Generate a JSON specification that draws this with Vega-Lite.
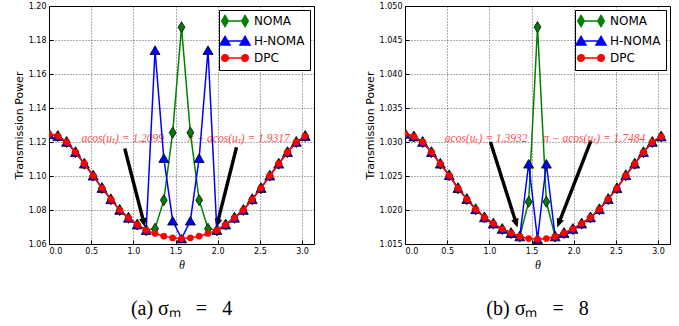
{
  "$schema": "https://vega.github.io/schema/vega-lite/v6.json",
  "background": "white",
  "padding": {"left": 12, "top": 1, "right": 2, "bottom": 0},
  "spacing": 48,
  "config": {
    "view": {"stroke": "black", "strokeWidth": 1},
    "axis": {
      "labelFont": "DejaVu Sans", "labelFontSize": 8, "labelColor": "black",
      "titleFont": "DejaVu Sans", "titleFontSize": 11, "titleFontWeight": "normal", "titleColor": "black",
      "domain": false, "grid": true, "gridColor": "black", "gridDash": [1, 2], "gridOpacity": 0.8, "gridWidth": 0.8,
      "tickColor": "black", "tickSize": -4, "labelPadding": 7
    },
    "axisX": {"titleFont": "Liberation Serif", "titleFontStyle": "italic", "titleFontSize": 12, "titlePadding": 4},
    "axisY": {"titlePadding": 4},
    "title": {"font": "Liberation Serif", "fontSize": 20, "fontWeight": "normal", "color": "black"},
    "legend": {
      "orient": "top-right", "offset": 4, "title": null, "fillColor": "white", "strokeColor": "black", "strokeWidth": 1,
      "padding": 5, "rowPadding": 3, "labelFont": "DejaVu Sans", "labelFontSize": 12, "labelColor": "black",
      "symbolSize": 100, "symbolStrokeWidth": 1.5, "labelOffset": 18
    }
  },
  "resolve": {
    "scale": {"x": "independent", "y": "independent", "fill": "independent", "stroke": "independent", "shape": "independent"},
    "legend": {"fill": "independent", "stroke": "independent", "shape": "independent"}
  },
  "datasets": {
    "curvesA": [
      {"s": "NOMA", "t": 0, "p": 1.1245}, {"s": "NOMA", "t": 0.105, "p": 1.1235}, {"s": "NOMA", "t": 0.209, "p": 1.12}, {"s": "NOMA", "t": 0.314, "p": 1.114}, {"s": "NOMA", "t": 0.419, "p": 1.1072}, {"s": "NOMA", "t": 0.524, "p": 1.1002}, {"s": "NOMA", "t": 0.628, "p": 1.0929}, {"s": "NOMA", "t": 0.733, "p": 1.0863}, {"s": "NOMA", "t": 0.838, "p": 1.08}, {"s": "NOMA", "t": 0.942, "p": 1.0754}, {"s": "NOMA", "t": 1.047, "p": 1.0714}, {"s": "NOMA", "t": 1.152, "p": 1.0681}, {"s": "NOMA", "t": 1.257, "p": 1.069}, {"s": "NOMA", "t": 1.361, "p": 1.0858}, {"s": "NOMA", "t": 1.466, "p": 1.1255}, {"s": "NOMA", "t": 1.571, "p": 1.1875}, {"s": "NOMA", "t": 1.676, "p": 1.1255}, {"s": "NOMA", "t": 1.78, "p": 1.0858}, {"s": "NOMA", "t": 1.885, "p": 1.069}, {"s": "NOMA", "t": 1.99, "p": 1.0681}, {"s": "NOMA", "t": 2.094, "p": 1.0714}, {"s": "NOMA", "t": 2.199, "p": 1.0754}, {"s": "NOMA", "t": 2.304, "p": 1.08}, {"s": "NOMA", "t": 2.409, "p": 1.0863}, {"s": "NOMA", "t": 2.513, "p": 1.0929}, {"s": "NOMA", "t": 2.618, "p": 1.1002}, {"s": "NOMA", "t": 2.723, "p": 1.1072}, {"s": "NOMA", "t": 2.827, "p": 1.114}, {"s": "NOMA", "t": 2.932, "p": 1.12}, {"s": "NOMA", "t": 3.037, "p": 1.1235},
      {"s": "H-NOMA", "t": 0, "p": 1.1245}, {"s": "H-NOMA", "t": 0.105, "p": 1.1235}, {"s": "H-NOMA", "t": 0.209, "p": 1.12}, {"s": "H-NOMA", "t": 0.314, "p": 1.114}, {"s": "H-NOMA", "t": 0.419, "p": 1.1072}, {"s": "H-NOMA", "t": 0.524, "p": 1.1002}, {"s": "H-NOMA", "t": 0.628, "p": 1.0929}, {"s": "H-NOMA", "t": 0.733, "p": 1.0863}, {"s": "H-NOMA", "t": 0.838, "p": 1.08}, {"s": "H-NOMA", "t": 0.942, "p": 1.0754}, {"s": "H-NOMA", "t": 1.047, "p": 1.0714}, {"s": "H-NOMA", "t": 1.152, "p": 1.0681}, {"s": "H-NOMA", "t": 1.257, "p": 1.174}, {"s": "H-NOMA", "t": 1.361, "p": 1.1105}, {"s": "H-NOMA", "t": 1.466, "p": 1.0737}, {"s": "H-NOMA", "t": 1.571, "p": 1.0632}, {"s": "H-NOMA", "t": 1.676, "p": 1.0737}, {"s": "H-NOMA", "t": 1.78, "p": 1.1105}, {"s": "H-NOMA", "t": 1.885, "p": 1.174}, {"s": "H-NOMA", "t": 1.99, "p": 1.0681}, {"s": "H-NOMA", "t": 2.094, "p": 1.0714}, {"s": "H-NOMA", "t": 2.199, "p": 1.0754}, {"s": "H-NOMA", "t": 2.304, "p": 1.08}, {"s": "H-NOMA", "t": 2.409, "p": 1.0863}, {"s": "H-NOMA", "t": 2.513, "p": 1.0929}, {"s": "H-NOMA", "t": 2.618, "p": 1.1002}, {"s": "H-NOMA", "t": 2.723, "p": 1.1072}, {"s": "H-NOMA", "t": 2.827, "p": 1.114}, {"s": "H-NOMA", "t": 2.932, "p": 1.12}, {"s": "H-NOMA", "t": 3.037, "p": 1.1235},
      {"s": "DPC", "t": 0, "p": 1.1245}, {"s": "DPC", "t": 0.105, "p": 1.1235}, {"s": "DPC", "t": 0.209, "p": 1.12}, {"s": "DPC", "t": 0.314, "p": 1.114}, {"s": "DPC", "t": 0.419, "p": 1.1072}, {"s": "DPC", "t": 0.524, "p": 1.1002}, {"s": "DPC", "t": 0.628, "p": 1.0929}, {"s": "DPC", "t": 0.733, "p": 1.0863}, {"s": "DPC", "t": 0.838, "p": 1.08}, {"s": "DPC", "t": 0.942, "p": 1.0754}, {"s": "DPC", "t": 1.047, "p": 1.0714}, {"s": "DPC", "t": 1.152, "p": 1.0681}, {"s": "DPC", "t": 1.257, "p": 1.0662}, {"s": "DPC", "t": 1.361, "p": 1.0646}, {"s": "DPC", "t": 1.466, "p": 1.0636}, {"s": "DPC", "t": 1.571, "p": 1.0632}, {"s": "DPC", "t": 1.676, "p": 1.0636}, {"s": "DPC", "t": 1.78, "p": 1.0646}, {"s": "DPC", "t": 1.885, "p": 1.0662}, {"s": "DPC", "t": 1.99, "p": 1.0681}, {"s": "DPC", "t": 2.094, "p": 1.0714}, {"s": "DPC", "t": 2.199, "p": 1.0754}, {"s": "DPC", "t": 2.304, "p": 1.08}, {"s": "DPC", "t": 2.409, "p": 1.0863}, {"s": "DPC", "t": 2.513, "p": 1.0929}, {"s": "DPC", "t": 2.618, "p": 1.1002}, {"s": "DPC", "t": 2.723, "p": 1.1072}, {"s": "DPC", "t": 2.827, "p": 1.114}, {"s": "DPC", "t": 2.932, "p": 1.12}, {"s": "DPC", "t": 3.037, "p": 1.1235}
    ],
    "curvesB": [
      {"s": "NOMA", "t": 0, "p": 1.0312}, {"s": "NOMA", "t": 0.105, "p": 1.0308}, {"s": "NOMA", "t": 0.209, "p": 1.03}, {"s": "NOMA", "t": 0.314, "p": 1.0285}, {"s": "NOMA", "t": 0.419, "p": 1.0268}, {"s": "NOMA", "t": 0.524, "p": 1.0251}, {"s": "NOMA", "t": 0.628, "p": 1.0232}, {"s": "NOMA", "t": 0.733, "p": 1.0216}, {"s": "NOMA", "t": 0.838, "p": 1.0201}, {"s": "NOMA", "t": 0.942, "p": 1.0189}, {"s": "NOMA", "t": 1.047, "p": 1.018}, {"s": "NOMA", "t": 1.152, "p": 1.0172}, {"s": "NOMA", "t": 1.257, "p": 1.0166}, {"s": "NOMA", "t": 1.361, "p": 1.0161}, {"s": "NOMA", "t": 1.466, "p": 1.0212}, {"s": "NOMA", "t": 1.571, "p": 1.0469}, {"s": "NOMA", "t": 1.676, "p": 1.0212}, {"s": "NOMA", "t": 1.78, "p": 1.0161}, {"s": "NOMA", "t": 1.885, "p": 1.0166}, {"s": "NOMA", "t": 1.99, "p": 1.0172}, {"s": "NOMA", "t": 2.094, "p": 1.018}, {"s": "NOMA", "t": 2.199, "p": 1.0189}, {"s": "NOMA", "t": 2.304, "p": 1.0201}, {"s": "NOMA", "t": 2.409, "p": 1.0216}, {"s": "NOMA", "t": 2.513, "p": 1.0232}, {"s": "NOMA", "t": 2.618, "p": 1.0251}, {"s": "NOMA", "t": 2.723, "p": 1.0268}, {"s": "NOMA", "t": 2.827, "p": 1.0285}, {"s": "NOMA", "t": 2.932, "p": 1.03}, {"s": "NOMA", "t": 3.037, "p": 1.0308},
      {"s": "H-NOMA", "t": 0, "p": 1.0312}, {"s": "H-NOMA", "t": 0.105, "p": 1.0308}, {"s": "H-NOMA", "t": 0.209, "p": 1.03}, {"s": "H-NOMA", "t": 0.314, "p": 1.0285}, {"s": "H-NOMA", "t": 0.419, "p": 1.0268}, {"s": "H-NOMA", "t": 0.524, "p": 1.0251}, {"s": "H-NOMA", "t": 0.628, "p": 1.0232}, {"s": "H-NOMA", "t": 0.733, "p": 1.0216}, {"s": "H-NOMA", "t": 0.838, "p": 1.0201}, {"s": "H-NOMA", "t": 0.942, "p": 1.0189}, {"s": "H-NOMA", "t": 1.047, "p": 1.018}, {"s": "H-NOMA", "t": 1.152, "p": 1.0172}, {"s": "H-NOMA", "t": 1.257, "p": 1.0166}, {"s": "H-NOMA", "t": 1.361, "p": 1.0161}, {"s": "H-NOMA", "t": 1.466, "p": 1.0268}, {"s": "H-NOMA", "t": 1.571, "p": 1.0157}, {"s": "H-NOMA", "t": 1.676, "p": 1.0268}, {"s": "H-NOMA", "t": 1.78, "p": 1.0161}, {"s": "H-NOMA", "t": 1.885, "p": 1.0166}, {"s": "H-NOMA", "t": 1.99, "p": 1.0172}, {"s": "H-NOMA", "t": 2.094, "p": 1.018}, {"s": "H-NOMA", "t": 2.199, "p": 1.0189}, {"s": "H-NOMA", "t": 2.304, "p": 1.0201}, {"s": "H-NOMA", "t": 2.409, "p": 1.0216}, {"s": "H-NOMA", "t": 2.513, "p": 1.0232}, {"s": "H-NOMA", "t": 2.618, "p": 1.0251}, {"s": "H-NOMA", "t": 2.723, "p": 1.0268}, {"s": "H-NOMA", "t": 2.827, "p": 1.0285}, {"s": "H-NOMA", "t": 2.932, "p": 1.03}, {"s": "H-NOMA", "t": 3.037, "p": 1.0308},
      {"s": "DPC", "t": 0, "p": 1.0312}, {"s": "DPC", "t": 0.105, "p": 1.0308}, {"s": "DPC", "t": 0.209, "p": 1.03}, {"s": "DPC", "t": 0.314, "p": 1.0285}, {"s": "DPC", "t": 0.419, "p": 1.0268}, {"s": "DPC", "t": 0.524, "p": 1.0251}, {"s": "DPC", "t": 0.628, "p": 1.0232}, {"s": "DPC", "t": 0.733, "p": 1.0216}, {"s": "DPC", "t": 0.838, "p": 1.0201}, {"s": "DPC", "t": 0.942, "p": 1.0189}, {"s": "DPC", "t": 1.047, "p": 1.018}, {"s": "DPC", "t": 1.152, "p": 1.0172}, {"s": "DPC", "t": 1.257, "p": 1.0166}, {"s": "DPC", "t": 1.361, "p": 1.0161}, {"s": "DPC", "t": 1.466, "p": 1.0158}, {"s": "DPC", "t": 1.571, "p": 1.0157}, {"s": "DPC", "t": 1.676, "p": 1.0158}, {"s": "DPC", "t": 1.78, "p": 1.0161}, {"s": "DPC", "t": 1.885, "p": 1.0166}, {"s": "DPC", "t": 1.99, "p": 1.0172}, {"s": "DPC", "t": 2.094, "p": 1.018}, {"s": "DPC", "t": 2.199, "p": 1.0189}, {"s": "DPC", "t": 2.304, "p": 1.0201}, {"s": "DPC", "t": 2.409, "p": 1.0216}, {"s": "DPC", "t": 2.513, "p": 1.0232}, {"s": "DPC", "t": 2.618, "p": 1.0251}, {"s": "DPC", "t": 2.723, "p": 1.0268}, {"s": "DPC", "t": 2.827, "p": 1.0285}, {"s": "DPC", "t": 2.932, "p": 1.03}, {"s": "DPC", "t": 3.037, "p": 1.0308}
    ],
    "arrowsA": [
      {"id": 1, "t": 0.898, "p": 1.1162, "t2": 1.123, "p2": 1.0728},
      {"id": 2, "t": 2.223, "p": 1.1169, "t2": 1.998, "p2": 1.0724}
    ],
    "arrowsB": [
      {"id": 1, "t": 1.013, "p": 1.03, "t2": 1.317, "p2": 1.0181},
      {"id": 2, "t": 2.205, "p": 1.0302, "t2": 1.825, "p2": 1.0181}
    ],
    "notesA": [
      {"t": 0.874, "p": 1.122, "label": "acos(uₜ) = 1.2099"},
      {"t": 2.25, "p": 1.122, "label": "π − acos(uₜ) = 1.9317"}
    ],
    "notesB": [
      {"t": 0.962, "p": 1.0305, "label": "acos(uₜ) = 1.3932"},
      {"t": 2.243, "p": 1.0305, "label": "π − acos(uₜ) = 1.7484"}
    ],
    "series": [{"s": "NOMA"}, {"s": "H-NOMA"}, {"s": "DPC"}]
  },
  "hconcat": [
    {
      "width": 265, "height": 238,
      "title": {"text": "(a) σₘ\u2002 =\u2002 4", "orient": "bottom", "offset": 29},
      "data": {"name": "curvesA"},
      "encoding": {
        "x": {"field": "t", "type": "quantitative", "scale": {"domain": [0, 3.1416], "nice": false, "zero": false},
              "axis": {"values": [0, 0.5, 1, 1.5, 2, 2.5, 3], "format": ".1f", "title": "θ"}},
        "y": {"field": "p", "type": "quantitative", "scale": {"domain": [1.06, 1.2], "nice": false, "zero": false},
              "axis": {"values": [1.06, 1.08, 1.1, 1.12, 1.14, 1.16, 1.18, 1.2], "format": ".2f", "title": "Transmission Power"}}
      },
      "layer": [
        {"data": {"name": "arrowsA"}, "mark": {"type": "rule", "strokeWidth": 3.4, "color": "black"},
         "encoding": {"x2": {"field": "t2"}, "y2": {"field": "p2"}}},
        {"data": {"name": "arrowsA"}, "transform": [{"filter": "datum.id === 1"}],
         "mark": {"type": "point", "shape": "M0,1.2L-0.95,-1L0.95,-1Z", "size": 64, "filled": true, "color": "black", "opacity": 1, "angle": -14.4},
         "encoding": {"x": {"field": "t2", "type": "quantitative"}, "y": {"field": "p2", "type": "quantitative"}}},
        {"data": {"name": "arrowsA"}, "transform": [{"filter": "datum.id === 2"}],
         "mark": {"type": "point", "shape": "M0,1.2L-0.95,-1L0.95,-1Z", "size": 64, "filled": true, "color": "black", "opacity": 1, "angle": 14},
         "encoding": {"x": {"field": "t2", "type": "quantitative"}, "y": {"field": "p2", "type": "quantitative"}}},
        {"data": {"name": "notesA"}, "mark": {"type": "text", "font": "Liberation Serif", "fontStyle": "italic", "fontSize": 11.5, "color": "#ff4d4d", "align": "center", "baseline": "middle"},
         "encoding": {"text": {"field": "label"}}},
        {"transform": [{"filter": "datum.s === 'NOMA'"}],
         "mark": {"type": "line", "color": "#008000", "strokeWidth": 1.5, "clip": true,
                  "point": {"filled": true, "fill": "#008000", "shape": "M0,-1L0.62,0L0,1L-0.62,0Z", "size": 121, "stroke": "black", "strokeWidth": 0.8, "opacity": 1, "clip": true}}},
        {"transform": [{"filter": "datum.s === 'H-NOMA'"}],
         "mark": {"type": "line", "color": "#0000ff", "strokeWidth": 1.5, "clip": true,
                  "point": {"filled": true, "fill": "#0000ff", "shape": "triangle-up", "size": 100, "stroke": "black", "strokeWidth": 0.8, "opacity": 1, "clip": true}}},
        {"transform": [{"filter": "datum.s === 'DPC'"}],
         "mark": {"type": "line", "color": "#ff0000", "strokeWidth": 1.5, "clip": true,
                  "point": {"filled": true, "fill": "#ff0000", "shape": "circle", "size": 40, "stroke": "#ff0000", "strokeWidth": 0.5, "opacity": 1, "clip": true}}},
        {"data": {"name": "series"}, "mark": {"type": "point", "size": 100, "opacity": 1, "strokeWidth": 1.5},
         "encoding": {
           "fill": {"field": "s", "type": "nominal", "scale": {"domain": ["NOMA", "H-NOMA", "DPC"], "range": ["#008000", "#0000ff", "#ff0000"]}, "legend": {"title": null}},
           "stroke": {"field": "s", "type": "nominal", "scale": {"domain": ["NOMA", "H-NOMA", "DPC"], "range": ["#008000", "#0000ff", "#ff0000"]}, "legend": {"title": null}},
           "shape": {"field": "s", "type": "nominal", "scale": {"domain": ["NOMA", "H-NOMA", "DPC"], "range": [
             "M-1,0L3,0M-1,-1.1L-0.35,0L-1,1.1L-1.65,0ZM3,-1.1L3.65,0L3,1.1L2.35,0Z",
             "M-1,0L3,0M-1,-0.9L0,0.8L-2,0.8ZM3,-0.9L4,0.8L2,0.8Z",
             "M-1,0L3,0M-0.35,0A0.65,0.65,0,1,1,-1.65,0A0.65,0.65,0,1,1,-0.35,0ZM3.65,0A0.65,0.65,0,1,1,2.35,0A0.65,0.65,0,1,1,3.65,0Z"]}, "legend": {"title": null}}
         }}
      ]
    },
    {
      "width": 265, "height": 238,
      "title": {"text": "(b) σₘ\u2002 =\u2002 8", "orient": "bottom", "offset": 29},
      "data": {"name": "curvesB"},
      "encoding": {
        "x": {"field": "t", "type": "quantitative", "scale": {"domain": [0, 3.1416], "nice": false, "zero": false},
              "axis": {"values": [0, 0.5, 1, 1.5, 2, 2.5, 3], "format": ".1f", "title": "θ"}},
        "y": {"field": "p", "type": "quantitative", "scale": {"domain": [1.015, 1.05], "nice": false, "zero": false},
              "axis": {"values": [1.015, 1.02, 1.025, 1.03, 1.035, 1.04, 1.045, 1.05], "format": ".3f", "title": "Transmission Power"}}
      },
      "layer": [
        {"data": {"name": "arrowsB"}, "mark": {"type": "rule", "strokeWidth": 3.4, "color": "black"},
         "encoding": {"x2": {"field": "t2"}, "y2": {"field": "p2"}}},
        {"data": {"name": "arrowsB"}, "transform": [{"filter": "datum.id === 1"}],
         "mark": {"type": "point", "shape": "M0,1.2L-0.95,-1L0.95,-1Z", "size": 64, "filled": true, "color": "black", "opacity": 1, "angle": -17.4},
         "encoding": {"x": {"field": "t2", "type": "quantitative"}, "y": {"field": "p2", "type": "quantitative"}}},
        {"data": {"name": "arrowsB"}, "transform": [{"filter": "datum.id === 2"}],
         "mark": {"type": "point", "shape": "M0,1.2L-0.95,-1L0.95,-1Z", "size": 64, "filled": true, "color": "black", "opacity": 1, "angle": 21},
         "encoding": {"x": {"field": "t2", "type": "quantitative"}, "y": {"field": "p2", "type": "quantitative"}}},
        {"data": {"name": "notesB"}, "mark": {"type": "text", "font": "Liberation Serif", "fontStyle": "italic", "fontSize": 11.5, "color": "#ff4d4d", "align": "center", "baseline": "middle"},
         "encoding": {"text": {"field": "label"}}},
        {"transform": [{"filter": "datum.s === 'NOMA'"}],
         "mark": {"type": "line", "color": "#008000", "strokeWidth": 1.5, "clip": true,
                  "point": {"filled": true, "fill": "#008000", "shape": "M0,-1L0.62,0L0,1L-0.62,0Z", "size": 121, "stroke": "black", "strokeWidth": 0.8, "opacity": 1, "clip": true}}},
        {"transform": [{"filter": "datum.s === 'H-NOMA'"}],
         "mark": {"type": "line", "color": "#0000ff", "strokeWidth": 1.5, "clip": true,
                  "point": {"filled": true, "fill": "#0000ff", "shape": "triangle-up", "size": 100, "stroke": "black", "strokeWidth": 0.8, "opacity": 1, "clip": true}}},
        {"transform": [{"filter": "datum.s === 'DPC'"}],
         "mark": {"type": "line", "color": "#ff0000", "strokeWidth": 1.5, "clip": true,
                  "point": {"filled": true, "fill": "#ff0000", "shape": "circle", "size": 40, "stroke": "#ff0000", "strokeWidth": 0.5, "opacity": 1, "clip": true}}},
        {"data": {"name": "series"}, "mark": {"type": "point", "size": 100, "opacity": 1, "strokeWidth": 1.5},
         "encoding": {
           "fill": {"field": "s", "type": "nominal", "scale": {"domain": ["NOMA", "H-NOMA", "DPC"], "range": ["#008000", "#0000ff", "#ff0000"]}, "legend": {"title": null}},
           "stroke": {"field": "s", "type": "nominal", "scale": {"domain": ["NOMA", "H-NOMA", "DPC"], "range": ["#008000", "#0000ff", "#ff0000"]}, "legend": {"title": null}},
           "shape": {"field": "s", "type": "nominal", "scale": {"domain": ["NOMA", "H-NOMA", "DPC"], "range": [
             "M-1,0L3,0M-1,-1.1L-0.35,0L-1,1.1L-1.65,0ZM3,-1.1L3.65,0L3,1.1L2.35,0Z",
             "M-1,0L3,0M-1,-0.9L0,0.8L-2,0.8ZM3,-0.9L4,0.8L2,0.8Z",
             "M-1,0L3,0M-0.35,0A0.65,0.65,0,1,1,-1.65,0A0.65,0.65,0,1,1,-0.35,0ZM3.65,0A0.65,0.65,0,1,1,2.35,0A0.65,0.65,0,1,1,3.65,0Z"]}, "legend": {"title": null}}
         }}
      ]
    }
  ]
}
